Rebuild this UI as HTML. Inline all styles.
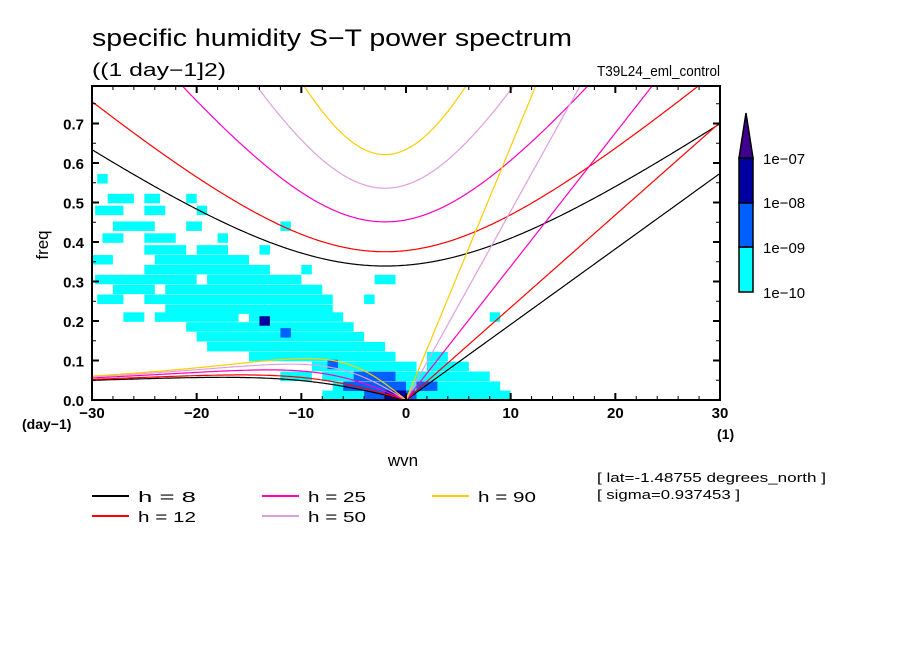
<!DOCTYPE html>
<html><head><meta charset="utf-8"><style>
body{margin:0;background:#fff;}
svg text{font-family:"Liberation Sans",sans-serif;}
</style></head><body>
<svg id="chart" width="904" height="654" viewBox="0 0 904 654" xmlns="http://www.w3.org/2000/svg">
<defs><clipPath id="plotclip"><rect x="92" y="86" width="628" height="314"/></clipPath></defs>
<rect width="904" height="654" fill="#fff"/>
<text x="92" y="46" font-size="24" textLength="480" lengthAdjust="spacingAndGlyphs">specific humidity S−T power spectrum</text>
<text x="92" y="76" font-size="18" textLength="134" lengthAdjust="spacingAndGlyphs">((1 day−1]2)</text>
<text x="597" y="76" font-size="15" textLength="123" lengthAdjust="spacingAndGlyphs">T39L24_eml_control</text>
<g id="field" clip-path="url(#plotclip)"></g>
<g id="curves" clip-path="url(#plotclip)"></g>
<g id="axes"></g>
<text x="403" y="466" font-size="17" text-anchor="middle">wvn</text>
<text x="48" y="245" font-size="17" text-anchor="middle" transform="rotate(-90 48 245)">freq</text>
<text x="22" y="429" font-size="14" font-weight="bold">(day−1)</text>
<text x="717" y="439" font-size="14" font-weight="bold">(1)</text>
<text x="597" y="482" font-size="13" textLength="229" lengthAdjust="spacingAndGlyphs">[ lat=-1.48755 degrees_north ]</text>
<text x="597" y="499" font-size="13" textLength="143" lengthAdjust="spacingAndGlyphs">[ sigma=0.937453 ]</text>
<g id="legend"></g>
<g id="cbar"></g>
</svg>
<script>
const NS="http://www.w3.org/2000/svg";
const depths=[8,12,25,50,90];
const depthColors=["#000000","#ff0000","#ff00c0","#dda0dd","#ffcc00"];
const levelColors=["#00ffff","#0060ff","#0000a0","#400090"];
const levelLabels=["1e-10","1e-09","1e-08","1e-07"];
const xTicks=[-30,-20,-10,0,10,20,30];
const yTicks=[0,0.1,0.2,0.3,0.4,0.5,0.6,0.7];
// strips: [freq, wvnStart, wvnEnd, level]
const strips=[
[0.56,-29.5,-28.5,0],[0.51,-28.5,-26,0],[0.51,-25,-23.5,0],[0.51,-21,-20,0],
[0.48,-29.7,-27,0],[0.48,-25,-23,0],[0.48,-20,-19,0],
[0.44,-28,-24,0],[0.44,-21,-19.5,0],[0.44,-12,-11,0],
[0.41,-29,-27,0],[0.41,-25,-22,0],[0.41,-18,-17,0],
[0.38,-25,-21,0],[0.38,-20,-17,0],[0.38,-14,-13,0],
[0.355,-30,-28,0],[0.355,-24,-15,0],
[0.33,-25,-13,0],[0.33,-10,-9,0],
[0.305,-29.7,-20,0],[0.305,-19,-10,0],[0.305,-3,-1,0],
[0.28,-28,-24,0],[0.28,-23,-8,0],
[0.255,-29.5,-27,0],[0.255,-25,-7,0],[0.255,-4,-3,0],
[0.23,-23,-7,0],
[0.21,-27,-25,0],[0.21,-24,-16,0],[0.21,-15,-6,0],[0.21,8,9,0],
[0.185,-21,-5,0],[0.16,-20,-4,0],[0.135,-19,-2,0],
[0.11,-15,-1,0],[0.11,2,4,0],
[0.085,-9,1,0],[0.085,2,6,0],
[0.06,-12,-9,0],[0.06,-8,8,0],
[0.035,-7,9,0],[0.012,-8,10,0],
[0.09,-7.5,-6.5,1],[0.06,-5,-1,1],[0.035,-6,0,1],[0.035,1,3,1],[0.012,-4,1,1],
[0.2,-14,-13,2],[0.17,-12,-11,1],[0.012,-2,0,2]
];
const X0=92,X1=720,Y0=400,Y1=86;
const sx=w=>X0+(w+30)*(X1-X0)/60;
const sy=f=>Y0-f*395;
function mk(tag,attrs,parent){const e=document.createElementNS(NS,tag);for(const k in attrs)e.setAttribute(k,attrs[k]);parent.appendChild(e);return e;}
const field=document.getElementById('field');
strips.forEach(s=>{
  const r=mk('rect',{x:sx(s[1]),y:sy(s[0]+0.012),width:sx(s[2])-sx(s[1]),height:0.024*395,fill:levelColors[s[3]]},field);
  
  
});
const g=9.81,a=6.371e6,Om=7.292e-5,beta=2*Om/a;
function roots(k,c){
  const p=-(c*c*k*k+3*beta*c), q=-beta*c*c*k;
  const m=2*Math.sqrt(-p/3), th=Math.acos(Math.max(-1,Math.min(1,3*q/(p*m))))/3;
  return [0,1,2].map(i=>m*Math.cos(th-2*Math.PI*i/3));
}
const cpd=w=>w*86400/(2*Math.PI);
const curves=document.getElementById('curves');
depths.forEach((h,i)=>{
  const c=Math.sqrt(g*h);
  let ig=[],ro=[],kv=[];
  for(let s=-30;s<=30.001;s+=0.1){
    const ks=(s+2)/a;
    const igf=Math.sqrt(c*c*ks*ks+3*beta*c);
    ig.push([s,cpd(igf)]);
    const k=s/a;
    if(Math.abs(s)<1e-6){ro.push([0,0]);kv.push([0,0]);continue;}
    if(s<0){const r=roots(k,c);const pos=r.filter(x=>x>0).sort((u,v)=>u-v);ro.push([s,cpd(pos[0])]);}
    else kv.push([s,cpd(c*k)]);
  }
  [['ig',ig],['rossby',ro],['kelvin',kv]].forEach(([nm,pts])=>{
    const p=mk('polyline',{points:pts.map(q=>sx(q[0]).toFixed(1)+','+sy(q[1]).toFixed(1)).join(' '),fill:'none',stroke:depthColors[i],'stroke-width':1.2},curves);
    
    
  });
});
const ax=document.getElementById('axes');
mk('rect',{x:X0,y:Y1,width:X1-X0,height:Y0-Y1,fill:'none',stroke:'#000','stroke-width':2},ax);
for(let w=-30;w<=30;w+=2){
  const major=w%10===0,L=major?7:4;
  mk('line',{x1:sx(w),y1:Y0,x2:sx(w),y2:Y0-L,stroke:'#000','stroke-width':major?2:1},ax);
  mk('line',{x1:sx(w),y1:Y1,x2:sx(w),y2:Y1+L,stroke:'#000','stroke-width':major?2:1},ax);
}
for(let j=0;j<=15;j++){const f=j*0.05,major=j%2===0,L=major?7:4;
  mk('line',{x1:X0,y1:sy(f),x2:X0+L,y2:sy(f),stroke:'#000','stroke-width':major?2:1},ax);
  mk('line',{x1:X1,y1:sy(f),x2:X1-L,y2:sy(f),stroke:'#000','stroke-width':major?2:1},ax);}
xTicks.forEach(w=>{const t=mk('text',{x:sx(w),y:418,'font-size':15,'font-weight':'bold','text-anchor':'middle'},ax);t.textContent=(w<0?'−'+(-w):w);
  
  });
yTicks.forEach(f=>{const t=mk('text',{x:84,y:sy(f)+6,'font-size':15,'font-weight':'bold','text-anchor':'end'},ax);t.textContent=f.toFixed(1);
  
  });
const lg=document.getElementById('legend');
const legPos=[[92,496],[92,516],[262,496],[262,516],[432,496]];
depths.forEach((h,i)=>{const [x,y]=legPos[i];
  const l=mk('line',{x1:x,y1:y,x2:x+37,y2:y,stroke:depthColors[i],'stroke-width':2},lg);
  
  
  const t=mk('text',{x:x+46,y:y+6,'font-size':15,textLength:58,lengthAdjust:'spacingAndGlyphs'},lg);t.textContent='h = '+(h<10?'  '+h:h);
  t.setAttribute('xml:space','preserve');
  
  });
const cb=document.getElementById('cbar');
const cx=739,cw=14,segTop=[247,202,158];
[0,1,2].forEach(i=>{const r=mk('rect',{x:cx,y:segTop[i],width:cw,height:45,fill:levelColors[i],stroke:'#000','stroke-width':1.5},cb);
  
  });
const tri=mk('polygon',{points:`${cx},158 ${cx+cw},158 ${cx+cw/2},113`,fill:levelColors[3],stroke:'#000','stroke-width':1.5},cb);


levelLabels.forEach((s,i)=>{const t=mk('text',{x:763,y:[292,247,202,158][i]+6,'font-size':15},cb);t.textContent=s.replace('-','−');
  
  });
</script>
</body></html>
